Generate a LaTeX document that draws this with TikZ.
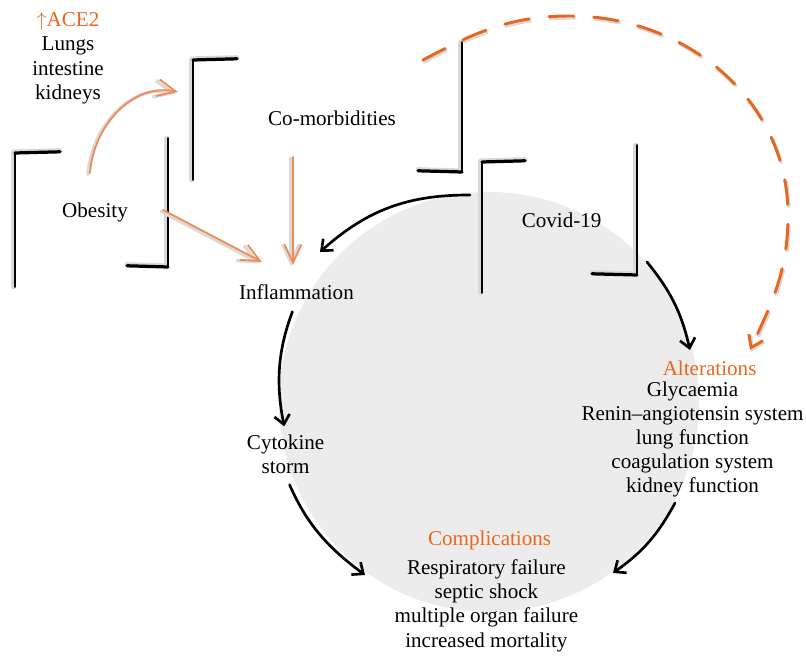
\documentclass[tikz,border=0pt]{standalone}
\usepackage{fontspec}
\setmainfont{Liberation Serif}
\usetikzlibrary{arrows.meta,calc}
\definecolor{hiorange}{HTML}{E8671F}
\definecolor{sketchorange}{HTML}{EF8D57}
\definecolor{discgray}{HTML}{ECECEC}
\definecolor{shadowgray}{HTML}{D9D9D9}
\begin{document}
\begin{tikzpicture}[line join=round, line cap=round,
  font=\fontsize{15}{17.2}\selectfont,
  lbl/.style={align=center, inner sep=1pt},
  cyc/.style={line width=1.9pt, -{Straight Barb[length=6.5pt,width=11pt]}},
  sketch/.style={sketchorange, line width=1.3pt, -{Straight Barb[length=13pt,width=12pt]},
    preaction={draw=shadowgray, line width=2.4pt, transform canvas={xshift=-1.4pt,yshift=-1pt}}},
  dashpath/.style={hiorange, line width=2.1pt, dash pattern=on 0.62cm off 0.5cm,
    -{Straight Barb[length=8pt,width=11pt]},
    preaction={draw=shadowgray, line width=2.6pt, dash pattern=on 0.62cm off 0.5cm,
      transform canvas={xshift=0.8pt,yshift=-1.3pt}}}]
\def\R{5.25}
\useasboundingbox (0,0) rectangle (20.15,16.425);
\coordinate (C) at (12.225,6.375);
\fill[discgray] (C) circle (\R);

% brush corners
\foreach \x/\ya/\yb/\xb in {0.375/9.25/12.6/1.5, 4.825/11.925/14.925/5.925, 4.2/12.975/9.75/3.175,
  11.55/15.375/12.125/10.45, 12.05/9.1/12.375/13.125, 15.925/12.8/9.55/14.8}{
  \draw[shadowgray, line width=3.4pt] (\x-0.035,\ya) -- (\x-0.035,\yb+0.03) -- (\xb,\yb+0.06);
  \draw[line width=1.2pt] (\x,\ya) -- (\x,\yb);
  \draw[line width=2.3pt] (\x,\yb) -- (\xb,\yb+0.03);
}

% labels
\node[lbl] (ace) at (1.7,14.97) {{\color{hiorange}$\uparrow$ACE2}\\Lungs\\intestine\\kidneys};
\node[lbl] (obesity) at (2.375,11.125) {Obesity};
\node[lbl] (comorb) at (8.3,13.475) {Co-morbidities};
\node[lbl] (covid) at (14.04,10.925) {Covid-19};
\node[lbl] (infl) at (7.41,9.125) {Inflammation};
\node[lbl] (cyt) at (7.14,5.0625) {Cytokine\\storm};
\node[lbl, text=hiorange] (alt) at (17.74,7.225) {Alterations};
\node[lbl] (altlist) at (17.3125,5.4375) {Glycaemia\\Renin–angiotensin system\\lung function\\coagulation system\\kidney function};
\node[lbl, text=hiorange] (compl) at (12.24,2.925) {Complications};
\node[lbl] (compllist) at (12.16,1.2825) {Respiratory failure\\septic shock\\multiple organ failure\\increased mortality};

% cycle arrows
\coordinate (covidout) at (11.75,11.55);
\coordinate (inflin) at (8.0,10.125);
\coordinate (complin) at (9.125,2.05);
\coordinate (covidright) at (16.175,9.875);
\coordinate (altin) at (17.25,7.675);
\coordinate (altout) at (16.875,3.85);
\coordinate (complin2) at (15.325,2.1);
\draw[cyc] (covidout) to[bend right=21] (inflin);
\draw[cyc, shorten <=8pt, shorten >=5pt] (infl.south) to[bend right=16] (cyt.north);
\draw[cyc, shorten <=7pt] (cyt.south) to[bend right=15] (complin);
\draw[cyc] (covidright) to[bend left=13] (altin);
\draw[cyc] (altout) to[bend left=13] (complin2);

% orange influences
\coordinate (obup) at (2.25,12.1);
\coordinate (acein) at (4.45,14.125);
\coordinate (obright) at (4.075,11.175);
\coordinate (inflobin) at (6.55,9.875);
\coordinate (comout) at (7.325,12.5);
\coordinate (inflcomin) at (7.325,9.8);
\draw[sketch] (obup) to[out=86,in=168] (acein);
\draw[sketch] (obright) -- (inflobin);
\draw[sketch] (comout) -- (inflcomin);

% dashed feedback
\coordinate (d0) at (10.575,14.925);
\coordinate (d1) at (14.25,16.025);
\coordinate (d2) at (19.7,11.05);
\coordinate (d3) at (18.75,7.675);
\draw[dashpath] (d0) to[out=28,in=180] (d1) to[out=0,in=90] (d2) to[out=-90,in=65] (d3);
\end{tikzpicture}
\end{document}
